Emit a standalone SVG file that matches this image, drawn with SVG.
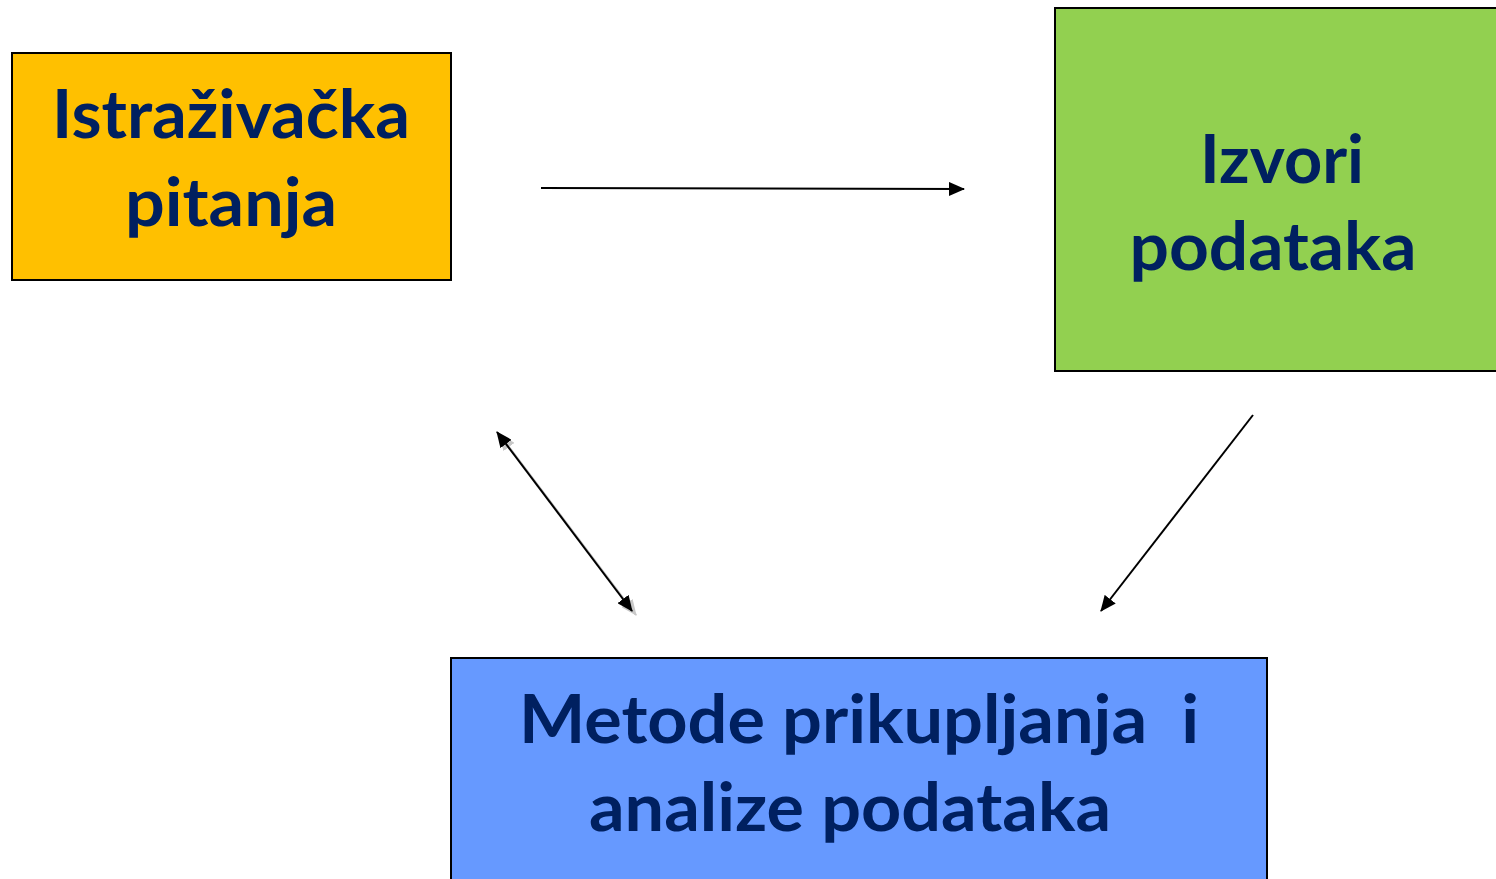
<svg xmlns="http://www.w3.org/2000/svg" width="1496" height="879" viewBox="0 0 1496 879">
<defs>
<style>
.box{stroke:#000;stroke-width:2}
.lbl{font-family:Lato,"Open Sans","Liberation Sans",sans-serif;font-weight:bold;font-size:66px;fill:#002060;text-anchor:middle}
.conn{stroke:#000;stroke-width:2;fill:none}
.shadow{stroke:#bdbdbd;stroke-width:2;fill:none}
</style>
<marker id="ah" viewBox="0 0 16 14" refX="15" refY="7" markerWidth="16" markerHeight="14" markerUnits="userSpaceOnUse" orient="auto-start-reverse">
<path d="M0,0 L16,7 L0,14 Z" fill="#000"/>
</marker>
<marker id="ahs" viewBox="0 0 16 14" refX="15" refY="7" markerWidth="16" markerHeight="14" markerUnits="userSpaceOnUse" orient="auto-start-reverse">
<path d="M0,0 L16,7 L0,14 Z" fill="#c8c8c8"/>
</marker>
</defs>
<rect width="1496" height="879" fill="#fff"/>
<g id="istrazivacka-pitanja">
<rect class="box" x="12" y="53" width="439" height="227" fill="#FFC000"/>
<text class="lbl" x="231" y="138" textLength="358" lengthAdjust="spacingAndGlyphs">Istraživačka</text>
<text class="lbl" x="231" y="226" textLength="212" lengthAdjust="spacingAndGlyphs">pitanja</text>
</g>
<g id="izvori-podataka">
<rect class="box" x="1055" y="8" width="445" height="363" fill="#92D050"/>
<text class="lbl" x="1282" y="183" textLength="164" lengthAdjust="spacingAndGlyphs">Izvori</text>
<text class="lbl" x="1273" y="270" textLength="287" lengthAdjust="spacingAndGlyphs">podataka</text>
</g>
<g id="metode">
<rect class="box" x="451" y="658" width="816" height="230" fill="#6699FF"/>
<text class="lbl" x="859" y="743" textLength="680" lengthAdjust="spacingAndGlyphs" xml:space="preserve">Metode prikupljanja  i</text>
<text class="lbl" x="850" y="831" textLength="522" lengthAdjust="spacingAndGlyphs">analize podataka</text>
</g>
<g id="connectors">
<line class="conn" x1="541" y1="188" x2="964" y2="189" marker-end="url(#ah)"/>
<line class="conn" x1="1253" y1="415" x2="1101" y2="611" marker-end="url(#ah)"/>
<line class="shadow" x1="500" y1="435" x2="636" y2="615" marker-start="url(#ahs)" marker-end="url(#ahs)"/>
<line class="conn" x1="497" y1="432" x2="632" y2="611" marker-start="url(#ah)" marker-end="url(#ah)"/>
</g>
</svg>
